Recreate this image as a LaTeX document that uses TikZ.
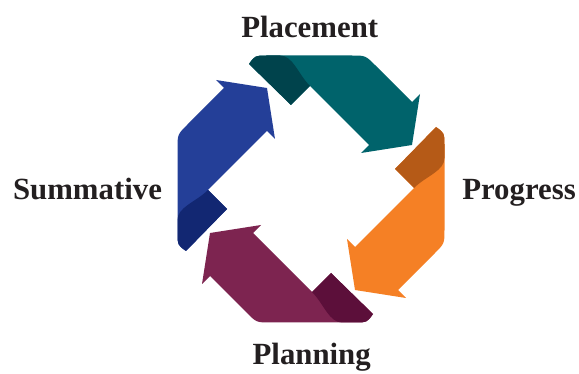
\documentclass[tikz,border=0pt]{standalone}
\usepackage{fontspec}
\setmainfont{Liberation Serif}
\usepackage{tikz}

\definecolor{tealband}{HTML}{00636B}
\definecolor{tealfold}{HTML}{00434C}
\definecolor{orangeband}{HTML}{F58025}
\definecolor{orangefold}{HTML}{B55A17}
\definecolor{plumband}{HTML}{7D2450}
\definecolor{plumfold}{HTML}{5C0F3A}
\definecolor{blueband}{HTML}{243F98}
\definecolor{bluefold}{HTML}{122772}
\definecolor{labelgray}{HTML}{231F20}

\tikzset{
  stagelabel/.style={anchor=base,text=labelgray,
    font=\fontsize{30.8}{36}\selectfont\bfseries},
  pics/ribbon/.style 2 args={code={
    % band with arrow head
    \fill[#1] (-62,-125) .. controls (-56,-133.5) .. (-44,-133.5)
      -- (40.5,-133.5) .. controls (54.5,-133.5) .. (64.4,-123.6)
      -- (101,-87) -- (109,-95) -- (101,-44) -- (50,-36) -- (58,-44)
      -- (-1,-103) -- (-20,-84) -- cycle;
    % folded end
    \fill[#2] (-62,-125) .. controls (-56,-133.5) .. (-44,-133.5)
      -- (-31,-133.5) .. controls (-18,-133.5) and (-13,-115) .. (-1,-103)
      -- (-20,-84) -- cycle;
  }}
}

\begin{document}
\begin{tikzpicture}[x=1pt,y=-1pt]
  \useasboundingbox (0,0) rectangle (579,374);
  \coordinate (center) at (311,189);

  \pic at (center) {ribbon={tealband}{tealfold}};
  \pic[rotate=-90] at (center) {ribbon={orangeband}{orangefold}};
  \pic[rotate=-180] at (center) {ribbon={plumband}{plumfold}};
  \pic[rotate=90] at (center) {ribbon={blueband}{bluefold}};

  \node[stagelabel] (placement) at (309.7,37.3) {Placement};
  \node[stagelabel] (progress) at (519,200) {Progress};
  \node[stagelabel] (planning) at (311.7,365) {Planning};
  \node[stagelabel] (summative) at (87.5,200) {Summative};
\end{tikzpicture}
\end{document}
